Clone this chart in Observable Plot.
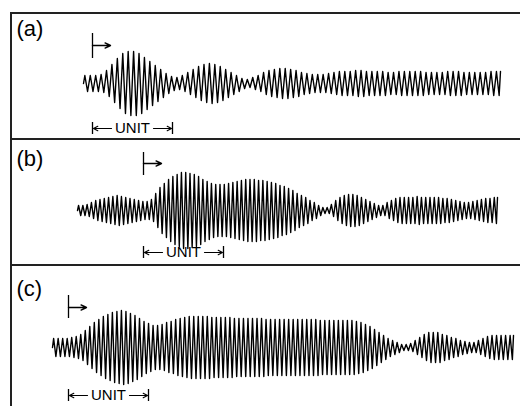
<!DOCTYPE html>
<html>
<head>
<meta charset="utf-8">
<script src="https://cdn.jsdelivr.net/npm/d3@7"></script>
<script src="https://cdn.jsdelivr.net/npm/@observablehq/plot@0.6"></script>
<style>
  html, body { margin: 0; padding: 0; background: #fff; }
  #fig { position: relative; width: 520px; height: 406px; overflow: hidden; background: #fff; }
  #fig svg { position: absolute; left: 0; }
  .hline { position: absolute; left: 10px; right: 0; height: 1.5px; background: #222; }
  .vline { position: absolute; left: 10px; top: 12px; bottom: 0; width: 1.5px; background: #222; }
</style>
</head>
<body>
<div id="fig"></div>
<script>
// ---------------- data ----------------
const panelLabels = ["(a)", "(b)", "(c)"];
const unitLabel = "UNIT";
const startTimes = [83, 77, 52];     // beginning of each trace
const endTimes = [500, 497, 513];    // end of each trace
const onsetTimes = [92, 143, 68];    // stimulus onset marker
const unitLength = 80;               // length of the UNIT bracket

// peak amplitude of every cycle
const ampA = [8, 8, 8, 9, 13, 19, 25, 30, 32, 32, 30, 26, 22, 18, 14, 10, 7, 6, 8, 11,
  14, 17, 19, 20, 19, 17, 14, 11, 8, 5, 4, 6, 8, 11, 13, 14, 15, 15, 14, 13,
  11, 10, 9, 9, 9, 10, 11, 12, 12, 12, 13, 13, 12, 12, 12, 12, 11, 11, 12, 12,
  12, 12, 12, 11, 11, 11, 11, 12, 12, 12, 11, 11, 11, 11, 11, 12, 12];
const ampB = [5, 5, 6, 8, 10, 11, 12, 13, 14, 15, 14, 13, 12, 11, 10, 9, 9, 11, 17, 23,
  27, 31, 34, 36, 38, 38, 37, 36, 34, 31, 29, 27, 26, 26, 26, 27, 28, 29, 30, 31,
  31, 31, 30, 30, 29, 28, 27, 25, 24, 22, 20, 17, 15, 13, 10, 8, 5, 3, 3, 6,
  10, 13, 15, 16, 16, 15, 13, 11, 9, 7, 5, 5, 8, 10, 12, 13, 13, 13, 13, 14,
  13, 13, 13, 13, 13, 12, 12, 11, 10, 9, 8, 8, 9, 10, 11, 12, 12, 13];
const ampC = [9, 9, 9, 9, 10, 11, 13, 17, 21, 25, 28, 31, 33, 35, 36, 37, 36, 34, 32, 29,
  26, 24, 22, 22, 23, 25, 26, 28, 29, 30, 31, 31, 31, 31, 31, 30, 30, 30, 30, 30,
  29, 29, 29, 29, 29, 29, 29, 28, 28, 28, 28, 28, 28, 28, 28, 28, 28, 28, 28, 27,
  27, 27, 27, 27, 27, 27, 27, 26, 25, 23, 21, 18, 15, 12, 9, 7, 5, 3, 3, 4,
  7, 10, 13, 15, 15, 15, 13, 12, 10, 9, 7, 6, 5, 5, 7, 9, 11, 12, 12, 12,
  12, 12];
const amplitudes = [ampA, ampB, ampC];

// ---------------- layout ----------------
const panelTops = [13, 139, 265];
const panelHeights = [126, 126, 141];
const centers = [70, 71, 82];          // local pixel of zero line
const markerY = [[25, 50, 38], [35, 58, 47], [29, 52, 40]]; // bar y1,y2, arrow y (amplitude units)
const bracketY = [-45, -42, -48];
const labelBaseline = [22, 26, 30];
const FONT = "'Liberation Sans', Arial, Helvetica, sans-serif";

const fig = document.getElementById("fig");

amplitudes.forEach((amps, p) => {
  const n = amps.length;
  const step = (endTimes[p] - startTimes[p]) / n;
  const wave = [{t: startTimes[p], v: 0}];
  amps.forEach((a, i) => {
    wave.push({t: startTimes[p] + (i + 0.25) * step, v: a});
    wave.push({t: startTimes[p] + (i + 0.75) * step, v: -a});
  });
  wave.push({t: endTimes[p], v: amps[n - 1]});

  const onset = onsetTimes[p];
  const [m1, m2, ma] = markerY[p];
  const by = bracketY[p];
  const H = panelHeights[p];
  const cy = centers[p];

  const chart = Plot.plot({
    width: 520,
    height: H,
    margin: 0,
    style: {background: "transparent", fontFamily: FONT, color: "#000"},
    x: {domain: [0, 520], range: [0, 520], axis: null},
    y: {domain: [-50, 50], range: [cy + 50, cy - 50], axis: null},
    marks: [
      Plot.line(wave, {x: "t", y: "v", stroke: "#000", strokeWidth: 1.4}),
      Plot.ruleX([onset], {y1: m1, y2: m2, stroke: "#000", strokeWidth: 1.3}),
      Plot.arrow([{x1: onset, x2: onset + 18}], {x1: "x1", x2: "x2", y1: ma, y2: ma,
        stroke: "#000", strokeWidth: 1.4, headLength: 7, headAngle: 50}),
      Plot.ruleX([onset, onset + unitLength], {y1: by - 6, y2: by + 6, stroke: "#000", strokeWidth: 1.3}),
      Plot.arrow([{x1: onset + 19, x2: onset + 1}, {x1: onset + 61, x2: onset + unitLength - 1}],
        {x1: "x1", x2: "x2", y1: by, y2: by, stroke: "#000", strokeWidth: 1.2, headLength: 6, headAngle: 55}),
      Plot.text([unitLabel], {x: onset + unitLength / 2, y: by, text: d => d, fontSize: 15,
        textAnchor: "middle", lineAnchor: "middle", fill: "#000", fontFamily: FONT}),
      Plot.text([panelLabels[p]], {text: d => d, frameAnchor: "top-left", dx: 16, dy: labelBaseline[p],
        lineAnchor: "bottom", textAnchor: "start", fontSize: 22, fill: "#000", fontFamily: FONT,
        style: "letter-spacing:1px"})
    ]
  });
  chart.style.top = panelTops[p] + "px";
  fig.appendChild(chart);
});

panelTops.forEach(t => {
  const d = document.createElement("div");
  d.className = "hline";
  d.style.top = (t - 1) + "px";
  fig.appendChild(d);
});
const v = document.createElement("div");
v.className = "vline";
fig.appendChild(v);
</script>
</body>
</html>
